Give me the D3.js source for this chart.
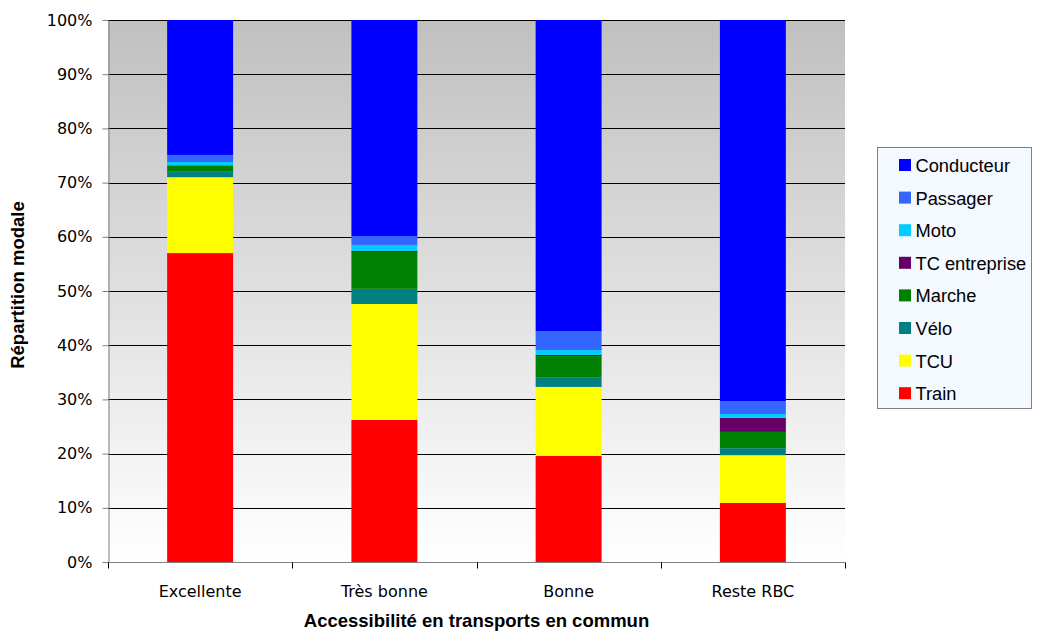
<!DOCTYPE html>
<html>
<head>
<meta charset="utf-8">
<script src="https://cdn.jsdelivr.net/npm/d3@7"></script>
<style>
  body { margin: 0; background: #ffffff; }
  svg { display: block; font-family: "Liberation Sans", Arial, sans-serif; }
</style>
</head>
<body>
<svg id="chart" width="1038" height="631"></svg>
<script>
// Modal split (%) by public-transport accessibility zone
const categories = ["Excellente", "Très bonne", "Bonne", "Reste RBC"];
const seriesNames = ["Train", "TCU", "Vélo", "Marche", "TC entreprise", "Moto", "Passager", "Conducteur"];
const train        = [57.0, 26.2, 19.6, 10.9];
const tcu          = [14.0, 21.4, 12.7,  8.8];
const velo         = [ 1.0,  2.8,  1.8,  1.3];
const marche       = [ 1.2,  6.8,  3.9,  3.0];
const tcEntreprise = [ 0.0,  0.2,  0.2,  2.6];
const moto         = [ 0.6,  1.1,  0.9,  0.7];
const passager     = [ 1.3,  1.6,  3.5,  2.4];
const conducteur   = [24.9, 39.9, 57.4, 70.3];
const seriesColors = ["#ff0000", "#ffff00", "#008080", "#008000", "#660066", "#00ccff", "#3366ff", "#0000ff"];
const yTickValues = [0, 10, 20, 30, 40, 50, 60, 70, 80, 90, 100];

const seriesValues = [train, tcu, velo, marche, tcEntreprise, moto, passager, conducteur];
const rows = categories.map((c, i) => {
  const r = { cat: c };
  seriesNames.forEach((s, k) => r[s] = seriesValues[k][i]);
  return r;
});

const svg = d3.select("#chart");
const plotLeft = 108, plotRight = 845, plotTop = 20, plotBottom = 562;
const tickFont = "'DejaVu Sans', Verdana, sans-serif";

const x = d3.scaleBand().domain(categories).range([plotLeft, plotRight])
  .paddingInner(0.642).paddingOuter(0.321);
const y = d3.scaleLinear().domain([0, 100]).range([plotBottom, plotTop]);

// plot-area gradient fill
const defs = svg.append("defs");
const grad = defs.append("linearGradient").attr("id", "plotBg")
  .attr("x1", 0).attr("y1", 0).attr("x2", 0).attr("y2", 1);
grad.append("stop").attr("offset", "0%").attr("stop-color", "#c0c0c0");
grad.append("stop").attr("offset", "100%").attr("stop-color", "#ffffff");
svg.append("rect").attr("x", plotLeft).attr("y", plotTop)
  .attr("width", plotRight - plotLeft).attr("height", plotBottom - plotTop)
  .attr("fill", "url(#plotBg)");

// horizontal gridlines
svg.append("g").selectAll("line").data(yTickValues.filter(v => v > 0)).join("line")
  .attr("x1", plotLeft).attr("x2", plotRight)
  .attr("y1", d => Math.round(y(d)) + 0.5).attr("y2", d => Math.round(y(d)) + 0.5)
  .attr("stroke", "#000000").attr("stroke-width", 1);

// stacked bars
const stack = d3.stack().keys(seriesNames)(rows);
svg.append("g").selectAll("g").data(stack).join("g")
  .attr("fill", (d, i) => seriesColors[i])
  .selectAll("rect").data(d => d).join("rect")
  .attr("x", d => x(d.data.cat))
  .attr("width", x.bandwidth())
  .attr("y", d => y(d[1]))
  .attr("height", d => Math.max(0, y(d[0]) - y(d[1])));

// y axis
const yAxis = svg.append("g").attr("transform", `translate(${plotLeft + 0.5},0)`)
  .call(d3.axisLeft(y).tickValues(yTickValues).tickFormat(d => d + "%").tickSize(6).tickSizeOuter(0));
yAxis.select(".domain").attr("stroke", "#808080");
yAxis.selectAll(".tick line").attr("stroke", "#808080");
yAxis.selectAll(".tick text").attr("font-size", 16).attr("fill", "#000").attr("x", -16)
  .attr("font-family", tickFont);

// x axis with boundary ticks
const xg = svg.append("g").attr("transform", `translate(0,${plotBottom + 0.5})`);
xg.append("line").attr("x1", plotLeft).attr("x2", plotRight).attr("stroke", "#808080");
const boundaries = categories.map(c => x(c) - x.step() * x.paddingInner() / 2).concat([plotRight]);
xg.selectAll("line.b").data(boundaries).join("line").attr("class", "b")
  .attr("x1", d => Math.round(d) + 0.5).attr("x2", d => Math.round(d) + 0.5)
  .attr("y1", 0).attr("y2", 6).attr("stroke", "#000");
xg.selectAll("text").data(categories).join("text")
  .attr("x", d => x(d) + x.bandwidth() / 2).attr("y", 34)
  .attr("text-anchor", "middle").attr("font-size", 16).attr("fill", "#000")
  .attr("font-family", tickFont)
  .text(d => d);

// axis titles
svg.append("text").attr("x", (plotLeft + plotRight) / 2).attr("y", 627)
  .attr("text-anchor", "middle").attr("font-size", 18.5).attr("font-weight", "bold")
  .text("Accessibilité en transports en commun");
svg.append("text").attr("transform", `translate(24,285) rotate(-90)`)
  .attr("text-anchor", "middle").attr("font-size", 18.5).attr("font-weight", "bold")
  .text("Répartition modale");

// legend
const lg = svg.append("g");
lg.append("rect").attr("x", 877.5).attr("y", 147.5).attr("width", 154).attr("height", 261)
  .attr("fill", "#f4f8ff").attr("stroke", "#808080");
const legendOrder = seriesNames.map((s, i) => ({ s, c: seriesColors[i] })).reverse();
const items = lg.selectAll("g").data(legendOrder).join("g")
  .attr("transform", (d, i) => `translate(899,${165 + i * 32.6})`);
items.append("rect").attr("x", 0).attr("y", -6).attr("width", 12).attr("height", 12)
  .attr("fill", d => d.c);
items.append("text").attr("x", 16.5).attr("y", 7).attr("font-size", 18.3).attr("fill", "#000")
  .text(d => d.s);
</script>
</body>
</html>
